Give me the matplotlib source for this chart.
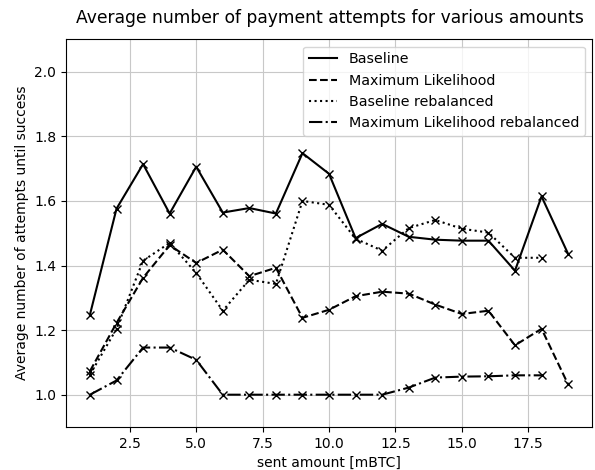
import matplotlib
matplotlib.use("Agg")
import matplotlib.pyplot as plt

x = list(range(1, 20))
baseline = [1.248, 1.576, 1.714, 1.561, 1.706, 1.564, 1.578, 1.561, 1.748, 1.684,
            1.485, 1.529, 1.489, 1.480, 1.477, 1.477, 1.384, 1.614, 1.436]
ml = [1.073, 1.222, 1.362, 1.463, 1.408, 1.449, 1.367, 1.393, 1.238, 1.263,
      1.305, 1.319, 1.313, 1.279, 1.250, 1.260, 1.153, 1.204, 1.032]
x_reb = list(range(1, 19))
baseline_reb = [1.062, 1.204, 1.415, 1.470, 1.377, 1.260, 1.356, 1.343, 1.600, 1.588,
                1.483, 1.446, 1.516, 1.541, 1.514, 1.502, 1.424, 1.424]
ml_reb = [1.000, 1.044, 1.146, 1.146, 1.108, 1.000, 1.000, 1.000, 1.000, 1.000,
          1.000, 1.000, 1.022, 1.053, 1.056, 1.057, 1.060, 1.060]

fig = plt.figure(figsize=(5.95, 4.70), dpi=100)
ax = fig.add_axes([0.111, 0.0915, 0.884, 0.8245])

series = [
    (x, baseline, '-', 'Baseline'),
    (x, ml, '--', 'Maximum Likelihood'),
    (x_reb, baseline_reb, ':', 'Baseline rebalanced'),
    (x_reb, ml_reb, '-.', 'Maximum Likelihood rebalanced'),
]
for xs, ys, ls, lab in series:
    ax.plot(xs, ys, color='k', linestyle=ls, label=lab)
    ax.plot(xs, ys, color='k', linestyle='none', marker='x')

ax.set_ylim(0.9, 2.1)
ax.grid(True, color='#c8c8c8')
fig.text(0.555, 0.962, 'Average number of payment attempts for various amounts',
         fontsize=12.3, ha='center', va='center')
ax.set_xlabel('sent amount [mBTC]')
ax.set_ylabel('Average number of attempts until success')
ax.legend(loc='upper right', fontsize=10.3)

fig.savefig('out.png', dpi=100)
